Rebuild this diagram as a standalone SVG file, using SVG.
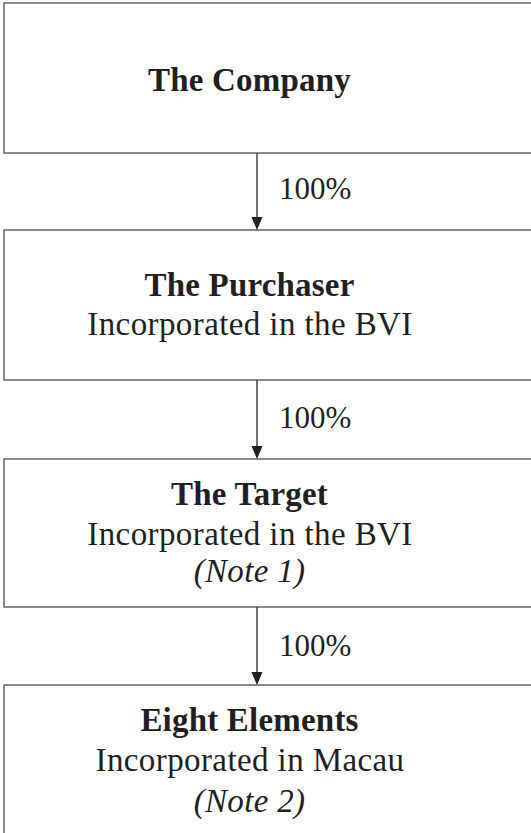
<svg xmlns="http://www.w3.org/2000/svg" width="531" height="833" viewBox="0 0 531 833">
<style>
.box{fill:#fff;stroke:#5a5a5a;stroke-width:1.4}
.t{font-family:"Liberation Serif","Times New Roman",serif;font-size:33px;fill:#231f20;text-anchor:middle}
.r{letter-spacing:0.4px}
.b{font-weight:bold;letter-spacing:0.2px}
.i{font-style:italic;letter-spacing:0.3px}
.lbl{font-family:"Liberation Serif","Times New Roman",serif;font-size:31px;fill:#231f20}
.conn{stroke:#3a3a3a;stroke-width:1.4;fill:none}
.head{fill:#231f20}
</style>
<rect width="531" height="833" fill="#fff"/>
<g id="company">
<rect class="box" x="4" y="3" width="540" height="150"/>
<text class="t b" x="249.5" y="91">The Company</text>
</g>
<g id="purchaser">
<rect class="box" x="4" y="230" width="540" height="150"/>
<text class="t b" x="249.5" y="296">The Purchaser</text>
<text class="t r" x="250" y="335">Incorporated in the BVI</text>
</g>
<g id="target">
<rect class="box" x="4" y="459" width="540" height="148"/>
<text class="t b" x="249.5" y="505">The Target</text>
<text class="t r" x="250" y="545">Incorporated in the BVI</text>
<text class="t i" x="249.5" y="582">(Note 1)</text>
</g>
<g id="eight-elements">
<rect class="box" x="4" y="685" width="540" height="160"/>
<text class="t b" x="249.5" y="731">Eight Elements</text>
<text class="t r" x="250" y="771">Incorporated in Macau</text>
<text class="t i" x="249.5" y="812">(Note 2)</text>
</g>
<g id="connectors">
<line class="conn" x1="257" y1="153" x2="257" y2="219"/>
<polygon class="head" points="251.5,217 262.5,217 257,230"/>
<text class="lbl" x="279" y="199">100%</text>
<line class="conn" x1="257" y1="380" x2="257" y2="448"/>
<polygon class="head" points="251.5,446 262.5,446 257,459"/>
<text class="lbl" x="279" y="428">100%</text>
<line class="conn" x1="257" y1="607" x2="257" y2="674"/>
<polygon class="head" points="251.5,672 262.5,672 257,685"/>
<text class="lbl" x="279" y="656">100%</text>
</g>
</svg>
